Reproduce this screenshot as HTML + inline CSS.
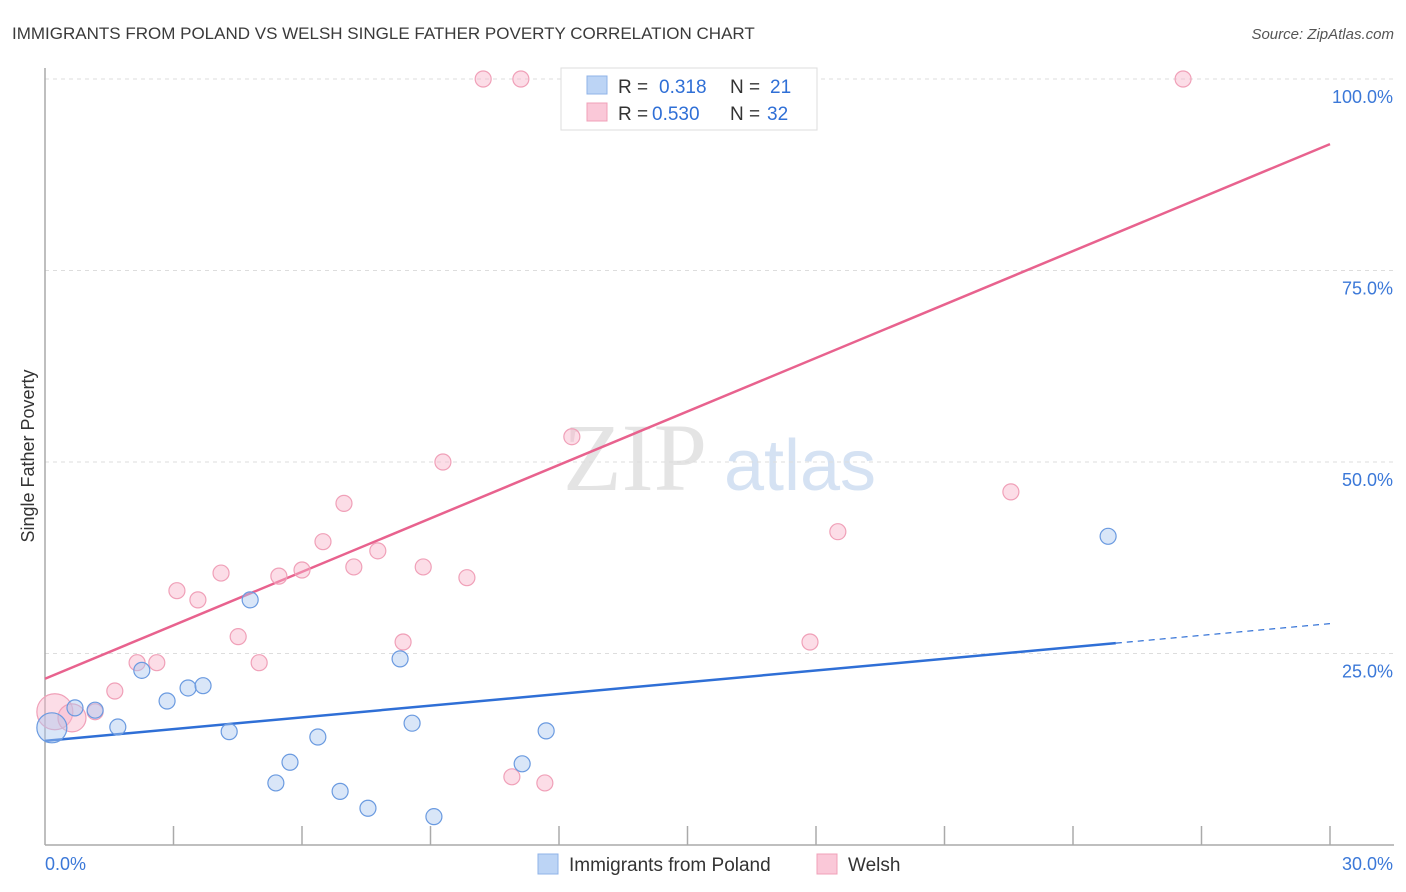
<!DOCTYPE html>
<html><head><meta charset="utf-8"><style>
body{margin:0;background:#fff;font-family:"Liberation Sans",sans-serif;}
svg{display:block}
</style></head><body>
<svg id="chart" width="1406" height="892" xmlns="http://www.w3.org/2000/svg">
<text x="12" y="39" font-size="17" fill="#3a3a3a">IMMIGRANTS FROM POLAND VS WELSH SINGLE FATHER POVERTY CORRELATION CHART</text>
<text x="1394" y="39" font-size="15" fill="#555" font-style="italic" text-anchor="end">Source: ZipAtlas.com</text>
<text x="635" y="490" font-size="96" fill="#e4e4e4" font-family="Liberation Serif,serif" text-anchor="middle">ZIP</text>
<text x="800" y="490" font-size="72" fill="#d5e2f3" text-anchor="middle">atlas</text>
<text transform="translate(34,456) rotate(-90)" font-size="18" fill="#333" text-anchor="middle">Single Father Poverty</text>
<g id="grid"></g><g id="axes"></g><g id="lines"></g><g id="pts"></g>
<g>
<rect x="561" y="68" width="256" height="62" fill="#fff" stroke="#ddd"/>
<rect x="587" y="76" width="20" height="18" fill="#bcd4f5" stroke="#8fb3e8"/>
<text x="618" y="93" font-size="19" fill="#333">R = </text><text x="659" y="93" font-size="19" fill="#2f6fd6">0.318</text>
<text x="730" y="93" font-size="19" fill="#333">N = </text><text x="770" y="93" font-size="19" fill="#2f6fd6">21</text>
<rect x="587" y="103" width="20" height="18" fill="#fac8d8" stroke="#f0a0b8"/>
<text x="618" y="120" font-size="19" fill="#333">R = </text><text x="652" y="120" font-size="19" fill="#2f6fd6">0.530</text>
<text x="730" y="120" font-size="19" fill="#333">N = </text><text x="767" y="120" font-size="19" fill="#2f6fd6">32</text>
</g>
<g>
<rect x="538" y="854" width="20" height="20" fill="#bcd4f5" stroke="#8fb3e8"/>
<text x="569" y="871" font-size="19" fill="#333">Immigrants from Poland</text>
<rect x="817" y="854" width="20" height="20" fill="#fac8d8" stroke="#f0a0b8"/>
<text x="848" y="871" font-size="19" fill="#333">Welsh</text>
</g>
</svg>
<script>
const polandX=[0.16,0.70,1.17,1.70,2.26,2.85,3.34,3.69,4.30,4.79,5.39,5.72,6.37,6.89,7.54,8.29,8.57,9.08,11.14,11.70,24.82];
const polandY=[15.3,17.9,17.6,15.4,22.8,18.8,20.5,20.8,14.8,32.0,8.1,10.8,14.1,7.0,4.8,24.3,15.9,3.7,10.6,14.9,40.3];
const welshX=[0.23,0.63,1.17,1.63,2.15,2.61,3.08,3.57,4.11,4.51,5.00,5.46,6.00,6.49,6.98,7.21,7.77,8.36,8.83,9.29,9.85,10.23,11.11,10.90,11.67,12.30,12.44,14.17,17.86,18.51,22.55,26.57];
const welshY=[17.4,16.6,17.4,20.1,23.8,23.8,33.2,32.0,35.5,27.2,23.8,35.1,35.9,39.6,44.6,36.3,38.4,26.5,36.3,50.0,34.9,100,100,8.9,8.1,53.3,100,100,26.5,40.9,46.1,100];
const polandTrend=[13.6,28.9]; // y at x=0 and x=30
const welshTrend=[21.7,91.5];
const yTicks=[25,50,75,100];
const yTickLabels=["25.0%","50.0%","75.0%","100.0%"];
const xTickLabels=["0.0%","30.0%"];
const NS="http://www.w3.org/2000/svg";
const X0=45,X1=1330,Y0=845,Y100=79;
const sx=v=>X0+v*(X1-X0)/30;
const sy=v=>Y0-v*(Y0-Y100)/100;
function mk(tag,attrs,parent){const e=document.createElementNS(NS,tag);for(const k in attrs)e.setAttribute(k,attrs[k]);parent.appendChild(e);return e;}
const grid=document.getElementById('grid'),axes=document.getElementById('axes'),lines=document.getElementById('lines'),pts=document.getElementById('pts');
yTicks.forEach((t,i)=>{
 const l=mk('line',{x1:X0,x2:1394,y1:sy(t),y2:sy(t),stroke:'#ddd','stroke-dasharray':'4,4'},grid);
 
 
 const tx=mk('text',{x:1393,y:sy(t)+24,'font-size':18,fill:'#3b78d8','text-anchor':'end'},grid);
 tx.textContent=yTickLabels[i];
 
 
});
const ax=mk('line',{x1:X0,x2:X0,y1:68,y2:Y0,stroke:'#aaa','stroke-width':1.5},axes);


const bx=mk('line',{x1:X0,x2:1394,y1:Y0,y2:Y0,stroke:'#aaa','stroke-width':1.5},axes);


for(let i=1;i<=10;i++){
 const t=mk('line',{x1:sx(i*3),x2:sx(i*3),y1:826,y2:Y0,stroke:'#aaa','stroke-width':1.5},axes);
 
 
}
const xl0=mk('text',{x:45,y:870,'font-size':18,fill:'#3b78d8'},axes);xl0.textContent=xTickLabels[0];


const xl1=mk('text',{x:1393,y:870,'font-size':18,fill:'#3b78d8','text-anchor':'end'},axes);xl1.textContent=xTickLabels[1];


// trend lines
const pyAt=(tr,x)=>tr[0]+(tr[1]-tr[0])*x/30;
const bl=mk('line',{x1:sx(0),y1:sy(pyAt(polandTrend,0)),x2:sx(25),y2:sy(pyAt(polandTrend,25)),stroke:'#2f6fd6','stroke-width':2.5},lines);


const bd=mk('line',{x1:sx(25),y1:sy(pyAt(polandTrend,25)),x2:sx(30),y2:sy(pyAt(polandTrend,30)),stroke:'#2f6fd6','stroke-width':1.2,'stroke-dasharray':'6,5'},lines);


const pl=mk('line',{x1:sx(0),y1:sy(welshTrend[0]),x2:sx(30),y2:sy(welshTrend[1]),stroke:'#e8628e','stroke-width':2.5},lines);


// points
welshX.forEach((x,i)=>{
 const r=i===0?18:(i===1?14:8);
 const c=mk('circle',{cx:sx(x),cy:sy(welshY[i]),r:r,fill:'rgba(248,180,202,0.45)',stroke:'#f0a0b8','stroke-width':1.2},pts);
 
 
});
polandX.forEach((x,i)=>{
 const r=i===0?15:8;
 const c=mk('circle',{cx:sx(x),cy:sy(polandY[i]),r:r,fill:'rgba(170,200,240,0.45)',stroke:'#6a9ae0','stroke-width':1.2},pts);
 
 
});
</script>
</body></html>
